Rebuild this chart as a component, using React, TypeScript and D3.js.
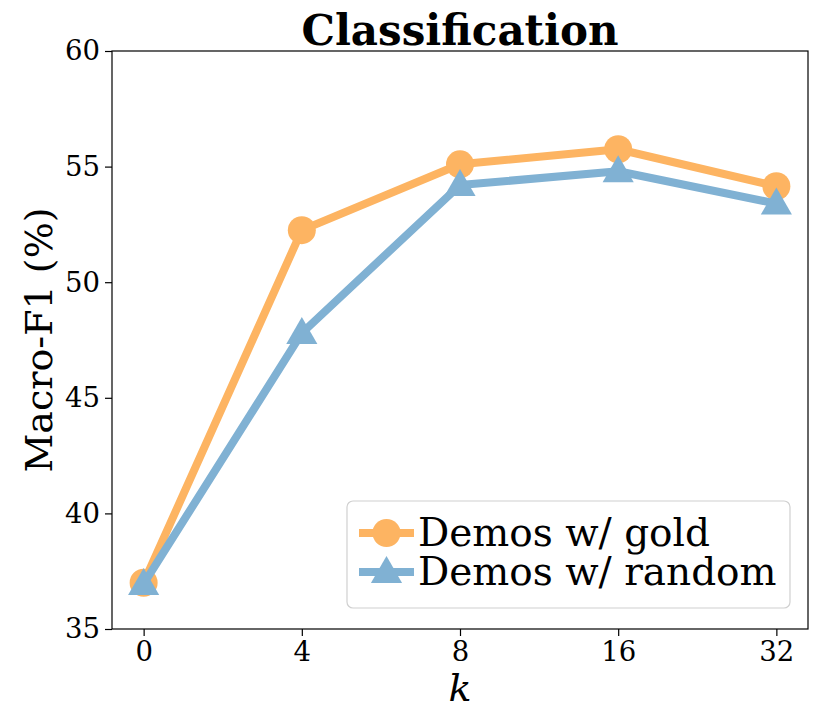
import { useEffect, useRef } from 'react';
import * as d3 from 'd3';

const kLabels = ['0', '4', '8', '16', '32'];
const goldValues = [37.0, 52.25, 55.1, 55.75, 54.15];
const randomValues = [36.95, 47.8, 54.2, 54.8, 53.4];
const yTicks = [35, 40, 45, 50, 55, 60];

const GOLD = '#fdb462';
const BLUE = '#80b1d3';
const FONT = "'DejaVu Serif', serif";

export default function App() {
  const svgRef = useRef<SVGSVGElement>(null);
  const width = 822;
  const height = 711;

  useEffect(() => {
    if (!svgRef.current) return;
    const svg = d3.select(svgRef.current);
    svg.selectAll('*').remove();

    const margin = { top: 51, right: 14, bottom: 82, left: 112 };
    const chartWidth = width - margin.left - margin.right;
    const chartHeight = height - margin.top - margin.bottom;

    const xScale = d3.scaleLinear().domain([-0.2, kLabels.length - 1 + 0.2]).range([0, chartWidth]);
    const yScale = d3.scaleLinear().domain([35, 60]).range([chartHeight, 0]);

    const chart = svg.append('g').attr('transform', `translate(${margin.left}, ${margin.top})`);

    // Axes
    const xAxis = d3.axisBottom(xScale)
      .tickValues(kLabels.map((_, i) => i))
      .tickFormat((d) => kLabels[d as number])
      .tickSize(7)
      .tickPadding(5);
    const yAxis = d3.axisLeft(yScale).tickValues(yTicks).tickSize(7).tickPadding(5);

    const gx = chart.append('g').attr('transform', `translate(0, ${chartHeight})`).call(xAxis);
    const gy = chart.append('g').call(yAxis);
    [gx, gy].forEach((g) => {
      g.select('.domain').remove();
      g.selectAll('.tick line').attr('stroke', '#000').attr('stroke-width', 1.2);
      g.selectAll('text')
        .attr('font-size', '27.5px')
        .attr('fill', '#000')
        .style('font-family', FONT);
    });

    // Frame
    chart.append('rect')
      .attr('width', chartWidth)
      .attr('height', chartHeight)
      .attr('fill', 'none')
      .attr('stroke', '#000')
      .attr('stroke-width', 1.2);

    const line = d3.line<number>()
      .x((_, i) => xScale(i))
      .y((d) => yScale(d));

    const tri = d3.symbol().type(d3.symbolTriangle).size(420);

    // Gold series
    chart.append('path')
      .attr('d', line(goldValues))
      .attr('fill', 'none')
      .attr('stroke', GOLD)
      .attr('stroke-width', 8)
      .attr('stroke-linejoin', 'round');
    chart.selectAll('.gold-pt')
      .data(goldValues)
      .enter()
      .append('circle')
      .attr('cx', (_, i) => xScale(i))
      .attr('cy', (d) => yScale(d))
      .attr('r', 14)
      .attr('fill', GOLD);

    // Random series
    chart.append('path')
      .attr('d', line(randomValues))
      .attr('fill', 'none')
      .attr('stroke', BLUE)
      .attr('stroke-width', 8)
      .attr('stroke-linejoin', 'round');
    chart.selectAll('.rand-pt')
      .data(randomValues)
      .enter()
      .append('path')
      .attr('d', tri)
      .attr('transform', (d, i) => `translate(${xScale(i)}, ${yScale(d) + 2})`)
      .attr('fill', BLUE);

    // Legend
    const legend = svg.append('g').attr('transform', 'translate(347, 501)');
    legend.append('rect')
      .attr('width', 443)
      .attr('height', 107)
      .attr('rx', 6)
      .attr('fill', '#fff')
      .attr('fill-opacity', 0.8)
      .attr('stroke', '#d0d0d0')
      .attr('stroke-width', 1.2);
    const items = [
      { label: 'Demos w/ gold', color: GOLD, shape: 'circle' },
      { label: 'Demos w/ random', color: BLUE, shape: 'tri' },
    ];
    items.forEach((it, i) => {
      const cy = 32 + i * 39;
      const row = legend.append('g').attr('transform', `translate(0, ${cy})`);
      row.append('line')
        .attr('x1', 12).attr('x2', 67)
        .attr('stroke', it.color)
        .attr('stroke-width', 8);
      if (it.shape === 'circle') {
        row.append('circle').attr('cx', 39.5).attr('r', 14).attr('fill', it.color);
      } else {
        row.append('path').attr('d', tri).attr('transform', 'translate(39.5, 2)').attr('fill', it.color);
      }
      row.append('text')
        .attr('x', 71)
        .attr('dy', '0.33em')
        .attr('font-size', '39px')
        .style('font-family', FONT)
        .text(it.label);
    });

    // Title
    svg.append('text')
      .attr('x', margin.left + chartWidth / 2)
      .attr('y', 45)
      .attr('text-anchor', 'middle')
      .attr('font-size', '42px')
      .attr('font-weight', '700')
      .style('font-family', FONT)
      .text('Classification');

    // X label
    svg.append('text')
      .attr('x', margin.left + chartWidth / 2)
      .attr('y', 701)
      .attr('text-anchor', 'middle')
      .attr('font-size', '38px')
      .attr('font-style', 'italic')
      .style('font-family', FONT)
      .text('k');

    // Y label
    svg.append('text')
      .attr('transform', `translate(52, ${margin.top + chartHeight / 2}) rotate(-90)`)
      .attr('text-anchor', 'middle')
      .attr('font-size', '38px')
      .style('font-family', FONT)
      .text('Macro-F1 (%)');
  }, []);

  return (
    <svg
      ref={svgRef}
      width={width}
      height={height}
      style={{ position: 'absolute', left: 0, top: 0, background: '#fff' }}
    />
  );
}
